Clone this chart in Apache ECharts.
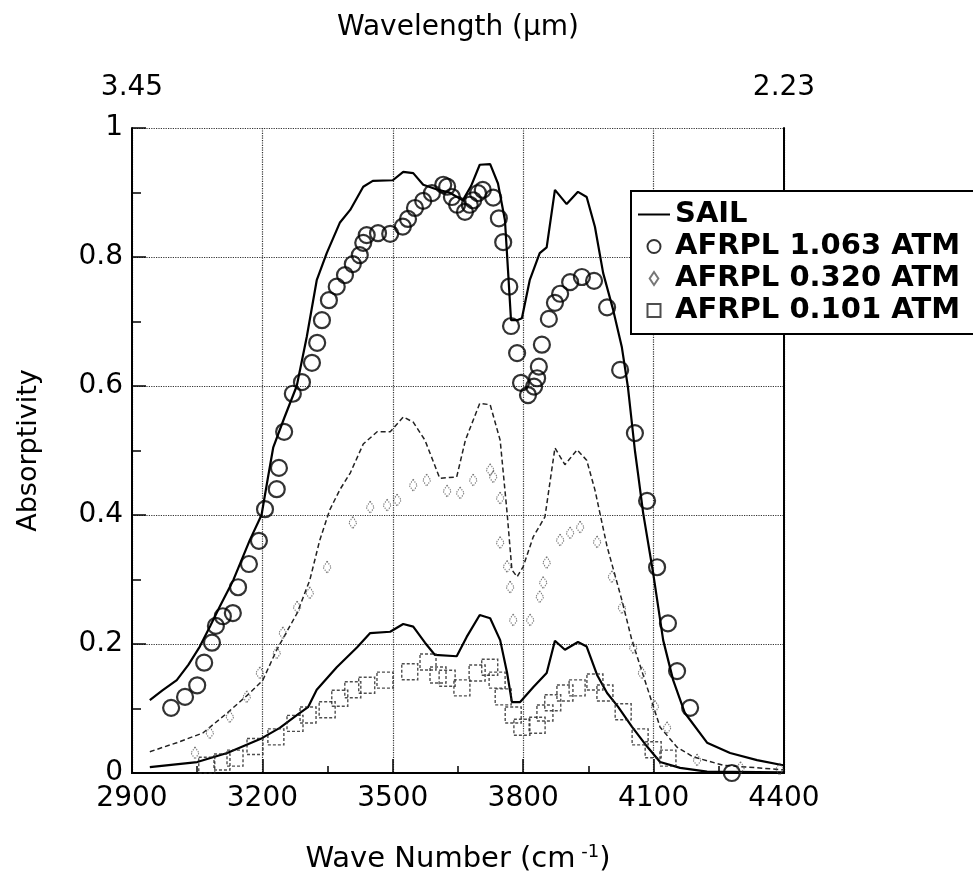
<!DOCTYPE html>
<html>
<head>
<meta charset="utf-8">
<script src="https://cdn.jsdelivr.net/npm/echarts@6/dist/echarts.min.js"></script>
<style>
  html, body { margin: 0; padding: 0; background: #fff; }
  #chart { width: 973px; height: 886px; }
</style>
</head>
<body>
<div id="chart"></div>
<script>
// axis labels
const topTickLabels = ['3.45', '2.23']

// SAIL curve, 1.063 atm (solid, upper)
const sailHigh = [
  [2941, 0.113], [2970, 0.128], [3003, 0.144], [3030, 0.168], [3056, 0.196], [3080, 0.228],
  [3102, 0.258], [3133, 0.299], [3171, 0.361], [3198, 0.400], [3212, 0.455], [3225, 0.505],
  [3250, 0.550], [3279, 0.600], [3302, 0.676], [3325, 0.764], [3348, 0.806], [3378, 0.853],
  [3402, 0.873], [3432, 0.909], [3454, 0.918], [3500, 0.919], [3524, 0.932], [3547, 0.930],
  [3570, 0.912], [3600, 0.905], [3630, 0.900], [3661, 0.888], [3680, 0.910], [3700, 0.943],
  [3724, 0.944], [3742, 0.914], [3758, 0.857], [3765, 0.780], [3772, 0.702], [3786, 0.702],
  [3797, 0.705], [3815, 0.764], [3838, 0.806], [3854, 0.815], [3873, 0.904], [3900, 0.882],
  [3926, 0.901], [3946, 0.893], [3965, 0.847], [3984, 0.775], [4007, 0.718], [4027, 0.660],
  [4041, 0.598], [4057, 0.500], [4064, 0.465], [4076, 0.403], [4099, 0.310], [4122, 0.206],
  [4145, 0.144], [4172, 0.093], [4223, 0.047], [4276, 0.031], [4338, 0.020], [4398, 0.012]
]

// SAIL curve, 0.320 atm (dashed, middle)
const sailMid = [
  [2941, 0.033], [3003, 0.047], [3063, 0.062], [3119, 0.093], [3171, 0.124], [3201, 0.144],
  [3233, 0.191], [3280, 0.248], [3309, 0.299], [3332, 0.361], [3355, 0.408], [3378, 0.439],
  [3402, 0.465], [3432, 0.510], [3464, 0.529], [3494, 0.529], [3524, 0.552], [3547, 0.544],
  [3574, 0.516], [3608, 0.457], [3647, 0.459], [3667, 0.516], [3700, 0.573], [3724, 0.571],
  [3747, 0.516], [3763, 0.403], [3774, 0.315], [3786, 0.304], [3800, 0.320], [3823, 0.366],
  [3850, 0.397], [3873, 0.504], [3896, 0.478], [3924, 0.501], [3946, 0.485], [3965, 0.439],
  [3993, 0.351], [4027, 0.268], [4050, 0.206], [4085, 0.133], [4115, 0.071], [4154, 0.040],
  [4191, 0.025], [4260, 0.012], [4398, 0.005]
]

// SAIL curve, 0.101 atm (solid, lower)
const sailLow = [
  [2941, 0.009], [3050, 0.017], [3119, 0.031], [3199, 0.054], [3240, 0.070], [3280, 0.090],
  [3305, 0.102], [3325, 0.129], [3371, 0.164], [3418, 0.195], [3448, 0.217], [3494, 0.219],
  [3524, 0.231], [3547, 0.227], [3574, 0.202], [3597, 0.183], [3647, 0.181], [3670, 0.211],
  [3700, 0.245], [3724, 0.240], [3747, 0.206], [3763, 0.155], [3774, 0.110], [3793, 0.110],
  [3823, 0.133], [3854, 0.155], [3873, 0.205], [3896, 0.191], [3926, 0.203], [3946, 0.196],
  [3970, 0.152], [3993, 0.124], [4018, 0.103], [4050, 0.072], [4085, 0.041], [4115, 0.017],
  [4161, 0.008], [4223, 0.002], [4398, 0.001]
]

// AFRPL measurements
const afrpl1063 = [
  [2990, 0.101], [3022, 0.118], [3050, 0.136], [3066, 0.171], [3084, 0.202], [3093, 0.228],
  [3109, 0.243], [3132, 0.248], [3144, 0.288], [3169, 0.324], [3192, 0.360], [3206, 0.409],
  [3233, 0.440], [3238, 0.473], [3250, 0.529], [3270, 0.588], [3291, 0.606], [3314, 0.636],
  [3326, 0.667], [3337, 0.702], [3353, 0.733], [3371, 0.754], [3390, 0.772], [3408, 0.789],
  [3424, 0.803], [3432, 0.822], [3440, 0.834], [3466, 0.837], [3494, 0.836], [3523, 0.847],
  [3535, 0.859], [3551, 0.876], [3570, 0.887], [3590, 0.899], [3616, 0.912], [3625, 0.909],
  [3636, 0.893], [3648, 0.881], [3666, 0.870], [3677, 0.881], [3685, 0.888], [3696, 0.899],
  [3707, 0.904], [3731, 0.892], [3744, 0.860], [3754, 0.823], [3768, 0.754], [3772, 0.693],
  [3786, 0.651], [3795, 0.605], [3811, 0.586], [3825, 0.599], [3832, 0.612], [3836, 0.630],
  [3843, 0.664], [3859, 0.704], [3873, 0.729], [3885, 0.743], [3908, 0.761], [3935, 0.769],
  [3963, 0.763], [3993, 0.722], [4023, 0.625], [4057, 0.527], [4085, 0.422], [4108, 0.319],
  [4133, 0.232], [4154, 0.158], [4184, 0.101], [4280, 0.000]
]

const afrpl0320 = [
  [3045, 0.031], [3079, 0.062], [3125, 0.087], [3164, 0.118], [3194, 0.155], [3233, 0.186],
  [3247, 0.217], [3280, 0.257], [3309, 0.279], [3349, 0.319], [3408, 0.388], [3448, 0.412],
  [3487, 0.415], [3510, 0.423], [3547, 0.446], [3578, 0.454], [3625, 0.437], [3655, 0.434],
  [3685, 0.454], [3724, 0.470], [3731, 0.459], [3747, 0.426], [3747, 0.357], [3763, 0.320],
  [3770, 0.288], [3777, 0.237], [3816, 0.237], [3838, 0.273], [3846, 0.295], [3854, 0.326],
  [3885, 0.361], [3908, 0.372], [3931, 0.381], [3970, 0.358], [4004, 0.304], [4027, 0.256],
  [4053, 0.194], [4073, 0.155], [4103, 0.103], [4131, 0.070], [4200, 0.020], [4300, 0.008],
  [4390, 0.006]
]

const afrpl0101 = [
  [3072, 0.012], [3107, 0.017], [3137, 0.023], [3183, 0.041], [3231, 0.056], [3275, 0.077],
  [3305, 0.090], [3349, 0.098], [3378, 0.116], [3408, 0.129], [3440, 0.136], [3482, 0.144],
  [3539, 0.157], [3581, 0.172], [3604, 0.152], [3625, 0.147], [3659, 0.132], [3694, 0.155],
  [3723, 0.164], [3740, 0.144], [3754, 0.118], [3777, 0.090], [3797, 0.071], [3832, 0.074],
  [3850, 0.093], [3868, 0.109], [3896, 0.124], [3924, 0.132], [3965, 0.141], [3988, 0.124],
  [4030, 0.095], [4069, 0.056], [4099, 0.036], [4133, 0.023]
]

const font = 'DejaVu Sans, sans-serif'
const chart = echarts.init(document.getElementById('chart'))

const axisStyle = { color: '#000', width: 2 }
const gridLine = { show: true, lineStyle: { type: 'dotted', color: '#333', width: 1.2 } }

const option = {
  backgroundColor: '#fff',
  animation: false,
  grid: { left: 132, top: 128, width: 652, height: 645 },
  legend: {
    left: 631,
    top: 191,
    orient: 'vertical',
    backgroundColor: '#fff',
    borderColor: '#000',
    borderWidth: 2,
    borderRadius: 0,
    padding: [9, 30, 9, 6],
    itemGap: 3,
    itemWidth: 32,
    itemHeight: 13,
    textStyle: { fontFamily: font, fontSize: 29, color: '#000', fontWeight: 'bold', lineHeight: 29 },
    data: [
      { name: 'SAIL', itemStyle: { opacity: 0 } },
      { name: 'AFRPL 1.063 ATM', icon: 'circle' },
      { name: 'AFRPL 0.320 ATM', icon: 'path://M4,0 L8,6 L4,12 L0,6 Z' },
      { name: 'AFRPL 0.101 ATM', icon: 'path://M0,0 H10 V10 H0 Z' }
    ]
  },
  xAxis: [
    {
      type: 'value',
      min: 2900,
      max: 4400,
      interval: 300,
      axisLine: { lineStyle: axisStyle },
      axisTick: { inside: true, length: 14, lineStyle: { color: '#000', width: 1.5 } },
      minorTick: { show: true, splitNumber: 2, length: 7, lineStyle: { color: '#000', width: 1.5 } },
      splitLine: gridLine,
      axisLabel: { fontFamily: font, fontSize: 28, color: '#000', margin: 12, formatter: v => String(v) },
      name: '{a|Wave Number (cm}{s| -1}{a|)}',
      nameLocation: 'middle',
      nameGap: 70,
      nameTextStyle: {
        rich: {
          a: { fontFamily: font, fontSize: 29, color: '#000' },
          s: { fontFamily: font, fontSize: 18, color: '#000', verticalAlign: 'top', padding: [0, 0, 14, 0] }
        }
      }
    },
    {
      type: 'value',
      position: 'top',
      min: 2900,
      max: 4400,
      interval: 1500,
      axisLine: { lineStyle: axisStyle },
      axisTick: { show: false },
      splitLine: { show: false },
      axisLabel: {
        fontFamily: font, fontSize: 28, color: '#000', margin: 26,
        formatter: v => (v === 2900 ? topTickLabels[0] : v === 4400 ? topTickLabels[1] : '')
      },
      name: 'Wavelength (\u03bcm)',
      nameLocation: 'middle',
      nameGap: 86,
      nameTextStyle: { fontFamily: font, fontSize: 28, color: '#000' }
    }
  ],
  yAxis: [
    {
      type: 'value',
      min: 0,
      max: 1,
      interval: 0.2,
      axisLine: { lineStyle: axisStyle },
      axisTick: { inside: true, length: 14, lineStyle: { color: '#000', width: 1.5 } },
      minorTick: { show: true, splitNumber: 2, length: 9, lineStyle: { color: '#000', width: 1.5 } },
      splitLine: gridLine,
      axisLabel: { fontFamily: font, fontSize: 28, color: '#000', margin: 9 },
      name: 'Absorptivity',
      nameLocation: 'middle',
      nameGap: 90,
      nameTextStyle: { fontFamily: font, fontSize: 27, color: '#000' }
    },
    {
      type: 'value',
      position: 'right',
      min: 0,
      max: 1,
      axisLine: { show: true, lineStyle: axisStyle },
      axisTick: { show: false },
      axisLabel: { show: false },
      splitLine: { show: false }
    }
  ],
  series: [
    {
      name: 'SAIL',
      type: 'line',
      data: sailHigh,
      symbol: 'none',
      itemStyle: { color: '#000' },
      lineStyle: { color: '#000', width: 2.2 },
      z: 3
    },
    {
      name: 'SAIL 0.320',
      type: 'line',
      data: sailMid,
      symbol: 'none',
      lineStyle: { color: '#222', width: 1.5, type: [5, 3] },
      z: 3
    },
    {
      name: 'SAIL 0.101',
      type: 'line',
      data: sailLow,
      symbol: 'none',
      lineStyle: { color: '#000', width: 2.2 },
      z: 3
    },
    {
      name: 'AFRPL 1.063 ATM',
      type: 'scatter',
      data: afrpl1063,
      symbol: 'circle',
      symbolSize: 16,
      itemStyle: { color: 'rgba(255,255,255,0)', borderColor: '#000', borderWidth: 2.2 },
      z: 4
    },
    {
      name: 'AFRPL 0.320 ATM',
      type: 'scatter',
      data: afrpl0320,
      symbol: 'diamond',
      symbolSize: [8, 12],
      itemStyle: { color: 'rgba(255,255,255,0)', borderColor: '#555', borderWidth: 1.2, borderType: 'dotted' },
      z: 4
    },
    {
      name: 'AFRPL 0.101 ATM',
      type: 'scatter',
      data: afrpl0101,
      symbol: 'rect',
      symbolSize: 16,
      itemStyle: { color: 'rgba(255,255,255,0)', borderColor: '#222', borderWidth: 1.4, borderType: [3, 2] },
      z: 4
    }
  ]
}

chart.setOption(option)
</script>
</body>
</html>
